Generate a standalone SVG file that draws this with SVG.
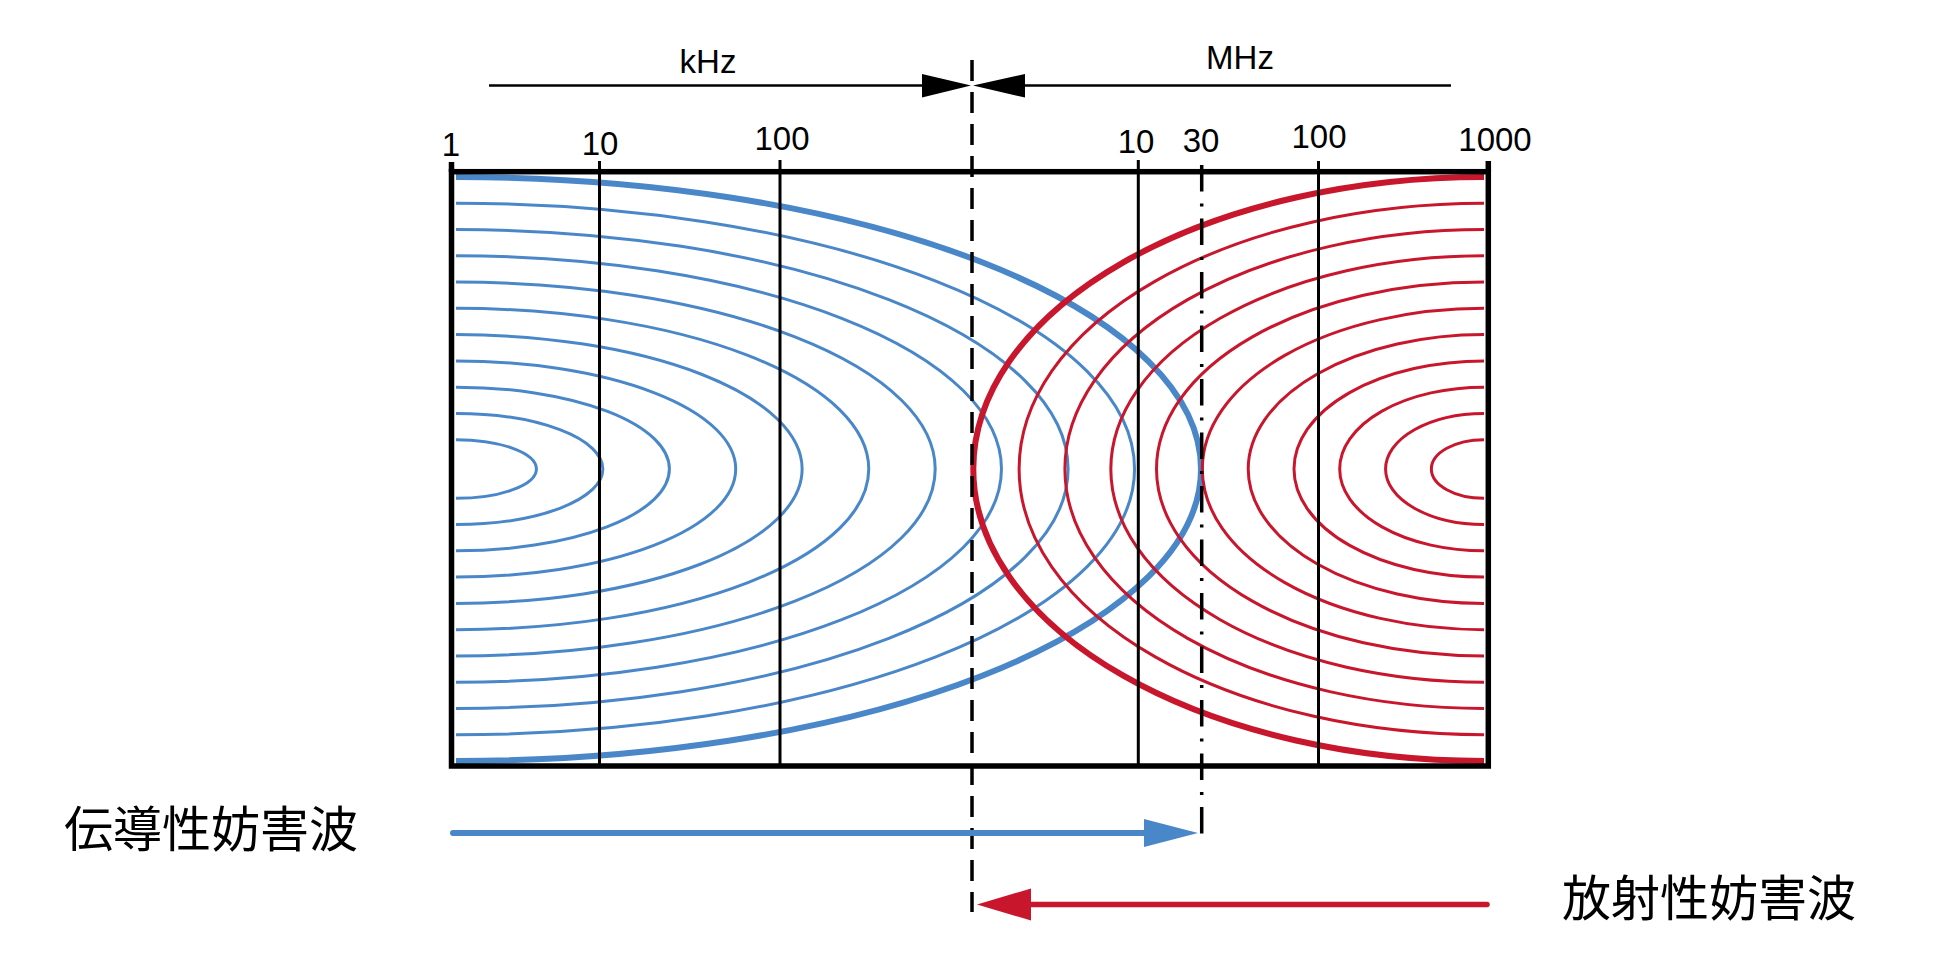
<svg xmlns="http://www.w3.org/2000/svg" width="1950" height="980" viewBox="0 0 1950 980">
<defs>
<style>
.bl{fill:none;stroke:#4A87C8;stroke-width:3}
.rd{fill:none;stroke:#C8162D;stroke-width:3}
.thick{stroke-width:6}
.k{fill:none;stroke:#000;stroke-width:3;stroke-linecap:butt}
.lab{font-family:"Liberation Sans",Arial,sans-serif;font-size:33px;fill:#000;text-anchor:middle}
.jp{font-family:"Noto Sans CJK JP","Noto Sans CJK SC",sans-serif;font-size:49px;fill:#000}
</style>
</defs>
<rect width="1950" height="980" fill="#fff"/>
<g id="conducted-waves">
<path class="bl" d="M456,439.7 A80.5,29.3 0 0 1 456,498.3"/>
<path class="bl" d="M456,413.43 A146.95,55.57 0 0 1 456,524.57"/>
<path class="bl" d="M456,387.16 A213.4,81.84 0 0 1 456,550.84"/>
<path class="bl" d="M456,360.89 A279.85,108.11 0 0 1 456,577.11"/>
<path class="bl" d="M456,334.62 A346.3,134.38 0 0 1 456,603.38"/>
<path class="bl" d="M456,308.35 A412.75,160.65 0 0 1 456,629.65"/>
<path class="bl" d="M456,282.08 A479.2,186.92 0 0 1 456,655.92"/>
<path class="bl" d="M456,255.81 A545.65,213.19 0 0 1 456,682.19"/>
<path class="bl" d="M456,229.54 A612.1,239.46 0 0 1 456,708.46"/>
<path class="bl" d="M456,203.27 A678.55,265.73 0 0 1 456,734.73"/>
<path class="bl thick" d="M456,177 A745,292 0 0 1 456,761"/>
</g>
<g id="radiated-waves">
<path class="rd" d="M1484,439.7 A52.7,29.3 0 0 0 1484,498.3"/>
<path class="rd" d="M1484,413.43 A98.5,55.57 0 0 0 1484,524.57"/>
<path class="rd" d="M1484,387.16 A144.3,81.84 0 0 0 1484,550.84"/>
<path class="rd" d="M1484,360.89 A190.1,108.11 0 0 0 1484,577.11"/>
<path class="rd" d="M1484,334.62 A235.9,134.38 0 0 0 1484,603.38"/>
<path class="rd" d="M1484,308.35 A281.7,160.65 0 0 0 1484,629.65"/>
<path class="rd" d="M1484,282.08 A327.5,186.92 0 0 0 1484,655.92"/>
<path class="rd" d="M1484,255.81 A373.3,213.19 0 0 0 1484,682.19"/>
<path class="rd" d="M1484,229.54 A419.1,239.46 0 0 0 1484,708.46"/>
<path class="rd" d="M1484,203.27 A464.9,265.73 0 0 0 1484,734.73"/>
<path class="rd thick" d="M1484,177 A510.7,292 0 0 0 1484,761"/>
</g>
<g id="frame">
<line class="k" x1="599.5" y1="161" x2="599.5" y2="766"/>
<line class="k" x1="780" y1="160" x2="780" y2="766"/>
<line class="k" x1="1138.3" y1="160" x2="1138.3" y2="766"/>
<line class="k" x1="1318.5" y1="161" x2="1318.5" y2="766"/>
<rect x="451.5" y="171.7" width="1036.8" height="594.3" fill="none" stroke="#000" stroke-width="5.5"/>
<line x1="451.5" y1="162" x2="451.5" y2="172" stroke="#000" stroke-width="5.5"/>
<line x1="1488.3" y1="161" x2="1488.3" y2="172" stroke="#000" stroke-width="5.5"/>
</g>
<g id="boundary-lines">
<line x1="972" y1="60" x2="972" y2="912" stroke="#000" stroke-width="3.5" stroke-dasharray="21 11"/>
<line x1="1201.7" y1="165" x2="1201.7" y2="835" stroke="#000" stroke-width="3.5" stroke-dasharray="26.5 12 3 12"/>
</g>
<g id="scale-labels">
<text class="lab" x="451" y="156">1</text>
<text class="lab" x="600" y="155">10</text>
<text class="lab" x="782" y="150">100</text>
<text class="lab" x="1136" y="153">10</text>
<text class="lab" x="1201" y="152">30</text>
<text class="lab" x="1319" y="148">100</text>
<text class="lab" x="1495" y="151">1000</text>
<text class="lab" x="708" y="73">kHz</text>
<text class="lab" x="1240" y="69">MHz</text>
</g>
<g id="connectors">
<line x1="489" y1="85.5" x2="923" y2="85.5" stroke="#000" stroke-width="2.5"/>
<polygon points="922,74 922,97.5 971,85.5" fill="#000"/>
<line x1="1024" y1="85.5" x2="1451" y2="85.5" stroke="#000" stroke-width="2.5"/>
<polygon points="1025,74 1025,97.5 973,85.5" fill="#000"/>
<line x1="453" y1="833" x2="1146" y2="833" stroke="#4A87C8" stroke-width="6" stroke-linecap="round"/>
<polygon points="1144,819 1198,833 1144,847" fill="#4A87C8"/>
<line x1="1487" y1="904.5" x2="1029" y2="904.5" stroke="#C8162D" stroke-width="5.5" stroke-linecap="round"/>
<polygon points="1031,888.5 977,904.5 1031,920.5" fill="#C8162D"/>
</g>
<g id="legend-conducted">
<text class="jp" x="64" y="847">伝導性妨害波</text>
</g>
<g id="legend-radiated">
<text class="jp" x="1562" y="916">放射性妨害波</text>
</g>
</svg>
